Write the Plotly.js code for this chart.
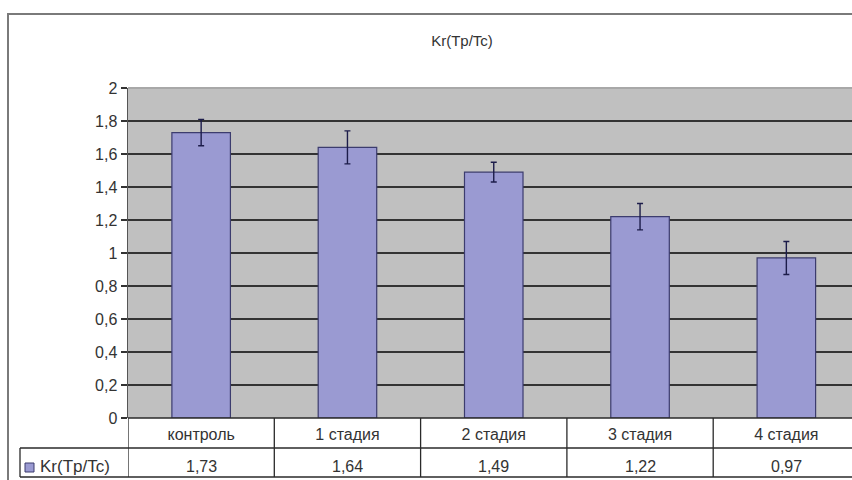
<!DOCTYPE html>
<html>
<head>
<meta charset="utf-8">
<script src="https://cdn.plot.ly/plotly-3.0.1.min.js"></script>
<style>html,body{margin:0;padding:0;background:#fff;}#chart{width:852px;height:480px;}</style>
</head>
<body>
<div id="chart"></div>
<script>
const seriesName = "Kr(Tp/Tc)";
const categories = ["контроль", "1 стадия", "2 стадия", "3 стадия", "4 стадия"];
const values = [1.73, 1.64, 1.49, 1.22, 0.97];
const errors = [0.08, 0.10, 0.06, 0.08, 0.10];
const yTicks = [0, 0.2, 0.4, 0.6, 0.8, 1, 1.2, 1.4, 1.6, 1.8, 2];

const W = 852, H = 480;
const L = 128, T = 88, B = 418;
const plotW = W - L, plotH = B - T;
const catW = 146.3;
const px = x => (x - L) / plotW;      // pixel -> paper x
const py = y => (B - y) / plotH;      // pixel -> paper y

const fmt = v => String(v).replace('.', ',');
const FONT = 'Liberation Sans, Arial, sans-serif';
const barFill = '#9a9ad2';
const barLine = '#3c3c6e';
const lineCol = '#2a2a2a';
const textCol = '#333333';

const trace = {
  type: 'bar',
  x: categories,
  y: values,
  name: seriesName,
  width: 0.40,
  marker: {color: barFill, line: {color: barLine, width: 1.2}},
  error_y: {type: 'data', array: errors, visible: true, color: '#1c1c4a', thickness: 1.4, width: 3},
  hoverinfo: 'skip'
};

const shapes = [];
const annotations = [];
const rowMid = py(448), rowBot = py(477);
// outer chart border
shapes.push({type: 'rect', xref: 'paper', yref: 'paper', x0: px(8), x1: px(W + 70), y0: py(14), y1: py(H + 10),
  line: {color: '#7a7a7a', width: 2}, fillcolor: 'rgba(0,0,0,0)', layer: 'below'});
// top border of plot area (light)
shapes.push({type: 'line', xref: 'paper', yref: 'paper', x0: 0, x1: 1, y0: 1, y1: 1, line: {color: '#a8a8a8', width: 2}, layer: 'above'});
// data table lines
shapes.push({type: 'line', xref: 'paper', yref: 'paper', x0: 0, x1: 1, y0: 0, y1: 0, line: {color: lineCol, width: 1.3}, layer: 'above'});
shapes.push({type: 'line', xref: 'paper', yref: 'paper', x0: px(20), x1: 1, y0: rowMid, y1: rowMid, line: {color: lineCol, width: 1.3}, layer: 'above'});
shapes.push({type: 'line', xref: 'paper', yref: 'paper', x0: px(20), x1: 1, y0: rowBot, y1: rowBot, line: {color: lineCol, width: 1.3}, layer: 'above'});
shapes.push({type: 'line', xref: 'paper', yref: 'paper', x0: px(20), x1: px(20), y0: rowMid, y1: rowBot, line: {color: lineCol, width: 1.3}, layer: 'above'});
for (let i = 0; i <= categories.length; i++) {
  shapes.push({type: 'line', xref: 'x', yref: 'paper', x0: i - 0.5, x1: i - 0.5, y0: 0, y1: rowBot, line: {color: lineCol, width: 1.3}, layer: 'above'});
}
// legend key in table
shapes.push({type: 'rect', xref: 'paper', yref: 'paper', x0: px(25), x1: px(34), y0: py(472), y1: py(463),
  fillcolor: barFill, line: {color: barLine, width: 1}, layer: 'above'});
annotations.push({xref: 'paper', yref: 'paper', x: px(38), y: py(466), text: seriesName, showarrow: false,
  xanchor: 'left', yanchor: 'middle', font: {family: FONT, size: 17, color: textCol}});
// values row
values.forEach((v, i) => {
  annotations.push({xref: 'x', yref: 'paper', x: categories[i], y: py(466), text: fmt(v), showarrow: false,
    xanchor: 'center', yanchor: 'middle', font: {family: FONT, size: 16, color: textCol}});
});

const layout = {
  width: W, height: H,
  margin: {l: L, r: 0, t: T, b: H - B, pad: 0},
  paper_bgcolor: '#ffffff',
  plot_bgcolor: '#c0c0c0',
  separators: ', ',
  showlegend: false,
  font: {family: FONT, size: 15, color: textCol},
  title: {text: seriesName, x: 462 / W, xref: 'container', xanchor: 'center', y: 1 - 41 / H, yref: 'container', yanchor: 'middle',
    font: {family: FONT, size: 15, color: textCol}},
  xaxis: {
    type: 'category',
    range: [-0.5, -0.5 + plotW / catW],
    showgrid: false, zeroline: false, showline: false,
    ticks: '', ticklabelstandoff: 5,
    tickfont: {family: FONT, size: 16, color: textCol},
    fixedrange: true
  },
  yaxis: {
    range: [0, 2],
    tickvals: yTicks,
    ticktext: yTicks.map(fmt),
    showgrid: true, gridcolor: '#333333', gridwidth: 1.5,
    zeroline: false,
    showline: true, linecolor: '#555555', linewidth: 1.5,
    ticks: 'outside', ticklen: 6, tickcolor: '#333333', tickwidth: 1.3,
    tickfont: {family: FONT, size: 16, color: textCol},
    fixedrange: true
  },
  bargap: 0.6,
  shapes: shapes,
  annotations: annotations
};

Plotly.newPlot('chart', [trace], layout, {displayModeBar: false, staticPlot: true});
</script>
</body>
</html>
